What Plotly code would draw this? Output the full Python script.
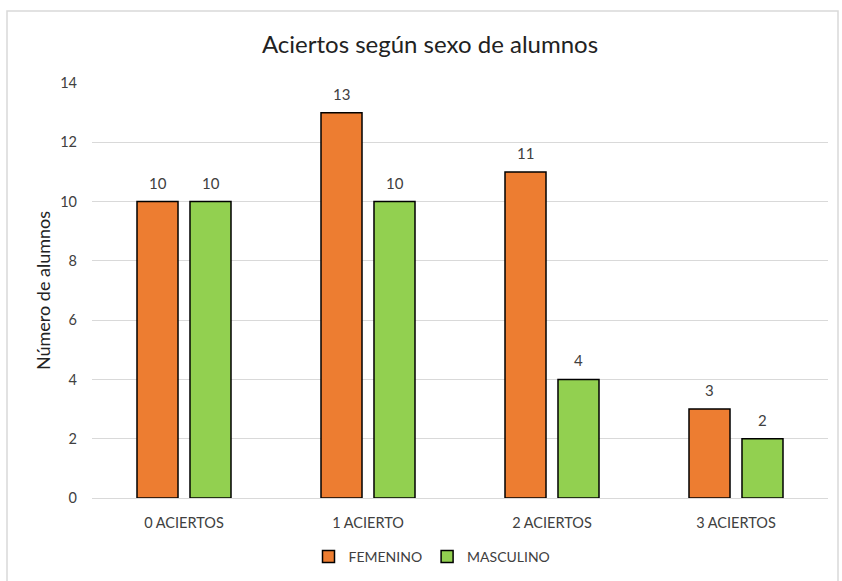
import plotly.graph_objects as go

categories = ["0 ACIERTOS", "1 ACIERTO", "2 ACIERTOS", "3 ACIERTOS"]
femenino = [10, 13, 11, 3]
masculino = [10, 10, 4, 2]
y_ticks = [0, 2, 4, 6, 8, 10, 12, 14]

L, R, T, B = 92, 14, 83, 83
W, H = 842, 581
pw, ph = W - L - R, H - T - B

def px_x(p):
    return (p - L) / pw

def px_y(p):
    return (H - B - p) / ph

font_family = "Lato"

fig = go.Figure()
fig.add_trace(go.Bar(
    x=categories, y=femenino, name="FEMENINO",
    marker=dict(color="#ED7D31", line=dict(color="black", width=1.5)),
))
fig.add_trace(go.Bar(
    x=categories, y=masculino, name="MASCULINO",
    marker=dict(color="#92D050", line=dict(color="black", width=1.5)),
))

annotations = []
for series, shift in ((femenino, -26.5), (masculino, 26.5)):
    for cat, v in zip(categories, series):
        annotations.append(dict(x=cat, y=v, xref="x", yref="y", text=str(v),
                                showarrow=False, xshift=shift, yshift=19,
                                yanchor="middle",
                                font=dict(size=15, color="#404040", family=font_family)))

fig.update_layout(
    width=W, height=H,
    margin=dict(l=L, r=R, t=T, b=B, autoexpand=False),
    paper_bgcolor="white", plot_bgcolor="white",
    barmode="group", bargap=0.424, bargroupgap=0.226,
    font=dict(family=font_family, color="#595959", size=14),
    title=dict(text="Aciertos según sexo de alumnos", x=430 / W,
               xanchor="center", y=1 - 45 / H, yanchor="middle",
               font=dict(size=24, color="#222222", family=font_family)),
    legend=dict(orientation="h", x=(432 - L) / pw, xanchor="center",
                y=px_y(557), yanchor="middle",
                font=dict(size=14, color="#404040", family=font_family),
                itemwidth=30, traceorder="normal"),
    xaxis=dict(showgrid=False, showline=False, ticks="", ticklabelstandoff=14,
               automargin=False, tickfont=dict(size=14.5, color="#404040")),
    yaxis=dict(range=[0, 14], tickvals=y_ticks, showgrid=True, gridcolor="#D9D9D9",
               gridwidth=1, zeroline=True, zerolinecolor="#D9D9D9", zerolinewidth=1,
               showline=False, ticks="", ticklabelstandoff=14, automargin=False,
               tickfont=dict(size=14.5, color="#404040"),
               title=dict(text="Número de alumnos", standoff=4,
                          font=dict(size=18, color="#222222"))),
    annotations=annotations,
    shapes=[dict(type="rect", xref="paper", yref="paper",
                 x0=px_x(7), x1=px_x(838), y0=px_y(600), y1=px_y(11),
                 line=dict(color="#D9D9D9", width=1.5), fillcolor="rgba(0,0,0,0)",
                 layer="below")],
)

fig.write_html("out.html")
